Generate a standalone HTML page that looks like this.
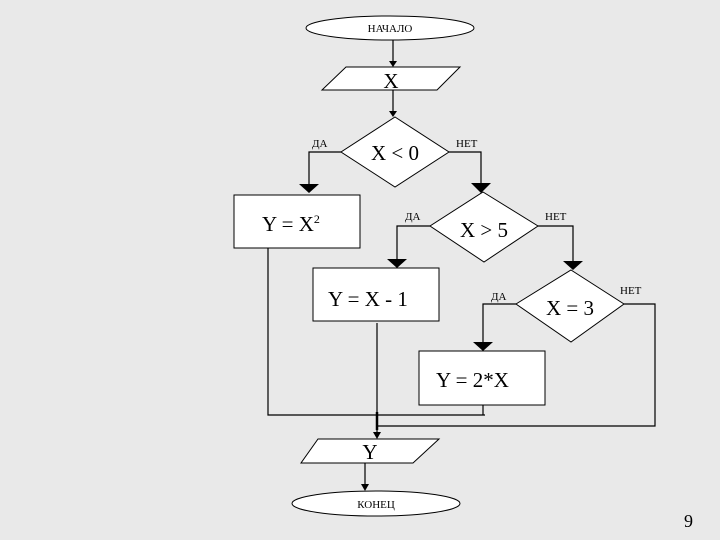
<!DOCTYPE html>
<html><head><meta charset="utf-8"><style>
html,body{margin:0;padding:0;background:#e9e9e9;}
svg{display:block;}
text{font-family:"Liberation Serif",serif;fill:#000;}
</style></head><body>
<svg width="720" height="540" viewBox="0 0 720 540" xmlns="http://www.w3.org/2000/svg">
<rect width="720" height="540" fill="#e9e9e9"/>
<g fill="#fff" stroke="#000" stroke-width="1">
<rect x="306" y="16" width="168" height="24" rx="84" ry="12"/>
<polygon points="346,67 460,67 437,90 322,90"/>
<polygon points="395,117 449,152 395,187 341,152"/>
<rect x="234" y="195" width="126" height="53"/>
<polygon points="483,192 538,226 484,262 430,226"/>
<rect x="313" y="268" width="126" height="53"/>
<polygon points="571,270 624,304 571,342 516,304"/>
<rect x="419" y="351" width="126" height="54"/>
<polygon points="318,439 439,439 413,463 301,463"/>
<rect x="292" y="491" width="168" height="25" rx="84" ry="12.5"/>
</g>
<g fill="none" stroke="#000" stroke-width="1.2">
<line x1="393" y1="40" x2="393" y2="62"/>
<line x1="393" y1="90" x2="393" y2="112"/>
<polyline points="341,152 309,152 309,186"/>
<polyline points="449,152 481,152 481,184"/>
<polyline points="430,226 397,226 397,260"/>
<polyline points="538,226 573,226 573,262"/>
<polyline points="516,304 483,304 483,343"/>
<polyline points="624,304 655,304 655,426 377,426"/>
<polyline points="268,248 268,415 485,415"/>
<line x1="483" y1="405" x2="483" y2="415"/>
<line x1="377" y1="323" x2="377" y2="433"/>
<line x1="365" y1="463" x2="365" y2="485"/>
</g>
<line x1="377" y1="412" x2="377" y2="430" stroke="#000" stroke-width="2.5"/>
<g fill="#000">
<polygon points="389,61 397,61 393,67"/>
<polygon points="389,111 397,111 393,117"/>
<polygon points="299,184 319,184 309,193"/>
<polygon points="471,183 491,183 481,193"/>
<polygon points="387,259 407,259 397,268"/>
<polygon points="563,261 583,261 573,270"/>
<polygon points="473,342 493,342 483,351"/>
<polygon points="373,432 381,432 377,439"/>
<polygon points="361,484 369,484 365,491"/>
</g>
<g font-size="11">
<text x="390" y="32" text-anchor="middle">НАЧАЛО</text>
<text x="376" y="508" text-anchor="middle">КОНЕЦ</text>
<text x="312" y="147">ДА</text>
<text x="456" y="147">НЕТ</text>
<text x="405" y="220">ДА</text>
<text x="545" y="220">НЕТ</text>
<text x="491" y="300">ДА</text>
<text x="620" y="294">НЕТ</text>
</g>
<g font-size="21">
<text x="391" y="88" text-anchor="middle">X</text>
<text x="395" y="160" text-anchor="middle">X &lt; 0</text>
<text x="484" y="237" text-anchor="middle">X &gt; 5</text>
<text x="570" y="315" text-anchor="middle">X = 3</text>
<text x="262" y="231">Y = X<tspan font-size="12" dy="-8">2</tspan></text>
<text x="328" y="306">Y = X - 1</text>
<text x="436" y="387">Y = 2*X</text>
<text x="370" y="459" text-anchor="middle">Y</text>
</g>
<text x="684" y="527" font-size="18" font-family="Liberation Sans,sans-serif">9</text>
</svg>
</body></html>
